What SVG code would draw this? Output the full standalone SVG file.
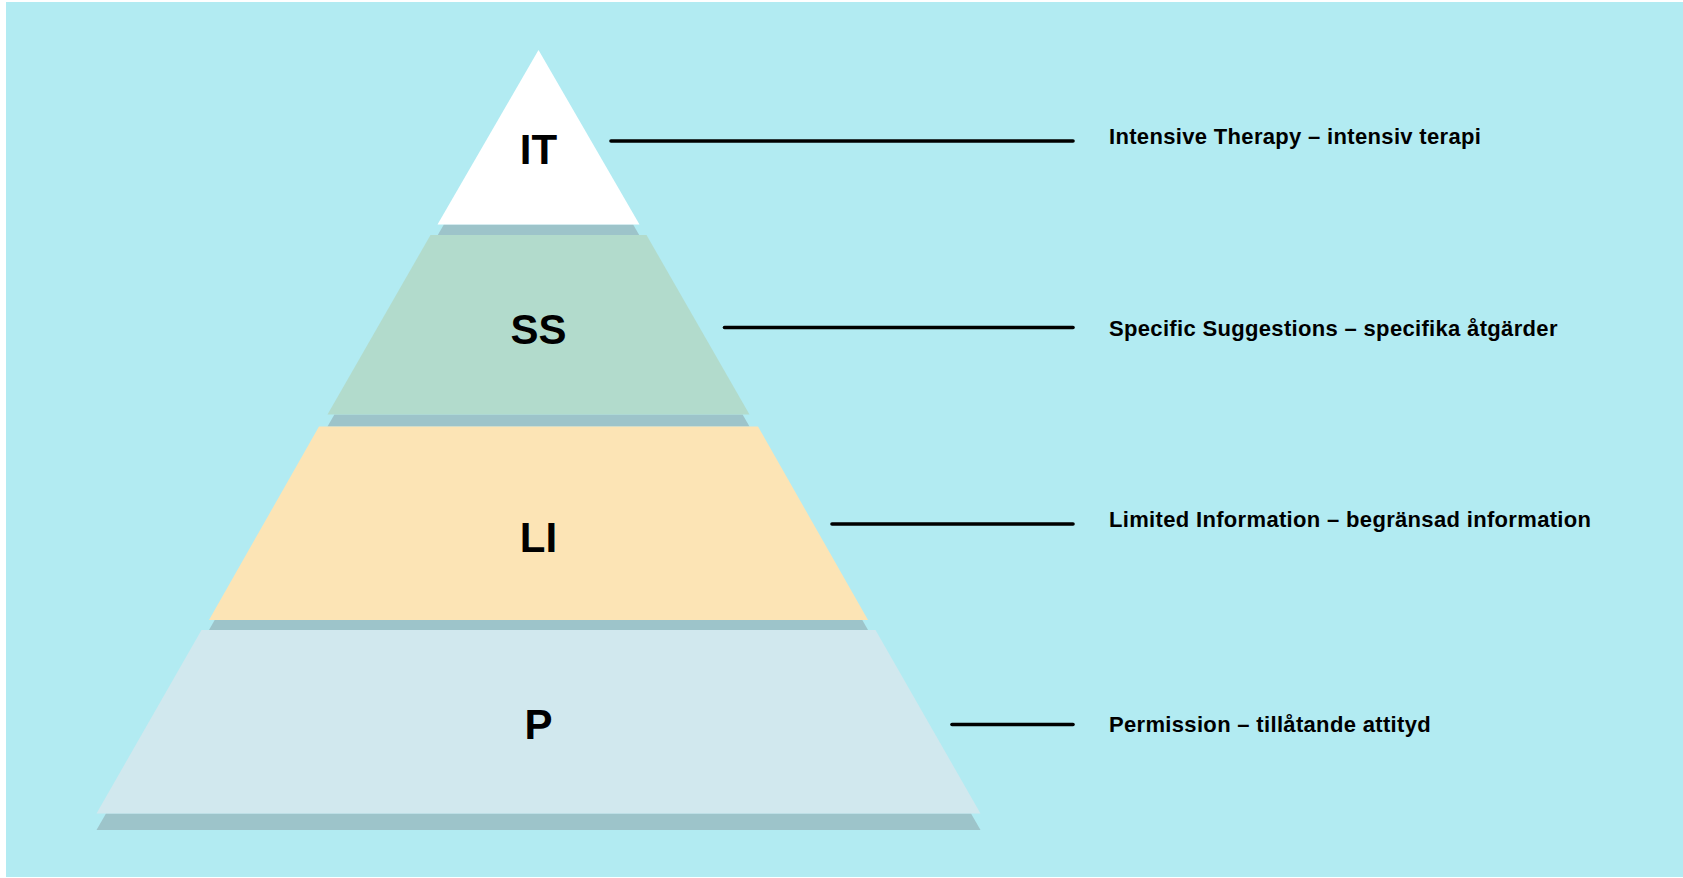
<svg xmlns="http://www.w3.org/2000/svg" width="1683" height="878" viewBox="0 0 1683 878">
<style>
.shadow{fill:#9DC4CA}
.lvl{font-family:"Liberation Sans",Arial,Helvetica,sans-serif;font-weight:bold;font-size:42px;fill:#000;text-anchor:middle}
.lbl{font-family:"Liberation Sans",Arial,Helvetica,sans-serif;font-weight:bold;font-size:22px;letter-spacing:0.33px;fill:#000}
.conn line{stroke:#000;stroke-width:3.6;stroke-linecap:round}
</style>
<rect x="0" y="0" width="1683" height="878" fill="#FFFFFF"/>
<rect x="6" y="2" width="1677" height="875" fill="#B2EBF2"/>
<g id="shadows">
<polygon class="shadow" points="443.9,224.5 633.1,224.5 639.5,235.5 437.5,235.5"/>
<polygon class="shadow" points="334.4,414.5 742.6,414.5 749.5,426.5 327.5,426.5"/>
<polygon class="shadow" points="214.7,620 862.3,620 868,630 209,630"/>
<polygon class="shadow" points="106,813.5 971,813.5 980.5,830 96.5,830"/>
</g>
<g id="node-IT">
<polygon points="538.5,50 639.5,224.5 437.5,224.5" fill="#FFFFFF"/>
<text class="lvl" x="538.5" y="164">IT</text>
</g>
<g id="node-SS">
<polygon points="430.5,235 646.5,235 749.5,414.5 327.5,414.5" fill="#B2DBCC"/>
<text class="lvl" x="538.5" y="344">SS</text>
</g>
<g id="node-LI">
<polygon points="319,426.5 758,426.5 868,620 209,620" fill="#FCE4B5"/>
<text class="lvl" x="538.5" y="552">LI</text>
</g>
<g id="node-P">
<polygon points="201.5,630 875.5,630 980.5,813.5 96.5,813.5" fill="#D1E8EE"/>
<text class="lvl" x="538.5" y="739">P</text>
</g>
<g id="connectors" class="conn">
<line x1="611" y1="141" x2="1073" y2="141"/>
<line x1="724.5" y1="327.5" x2="1073" y2="327.5"/>
<line x1="832" y1="524" x2="1073" y2="524"/>
<line x1="952" y1="724.5" x2="1073" y2="724.5"/>
</g>
<g id="labels">
<text class="lbl" x="1109" y="144.3">Intensive Therapy – intensiv terapi</text>
<text class="lbl" x="1109" y="335.5">Specific Suggestions – specifika åtgärder</text>
<text class="lbl" x="1109" y="527.3">Limited Information – begränsad information</text>
<text class="lbl" x="1109" y="731.5">Permission – tillåtande attityd</text>
</g>
</svg>
